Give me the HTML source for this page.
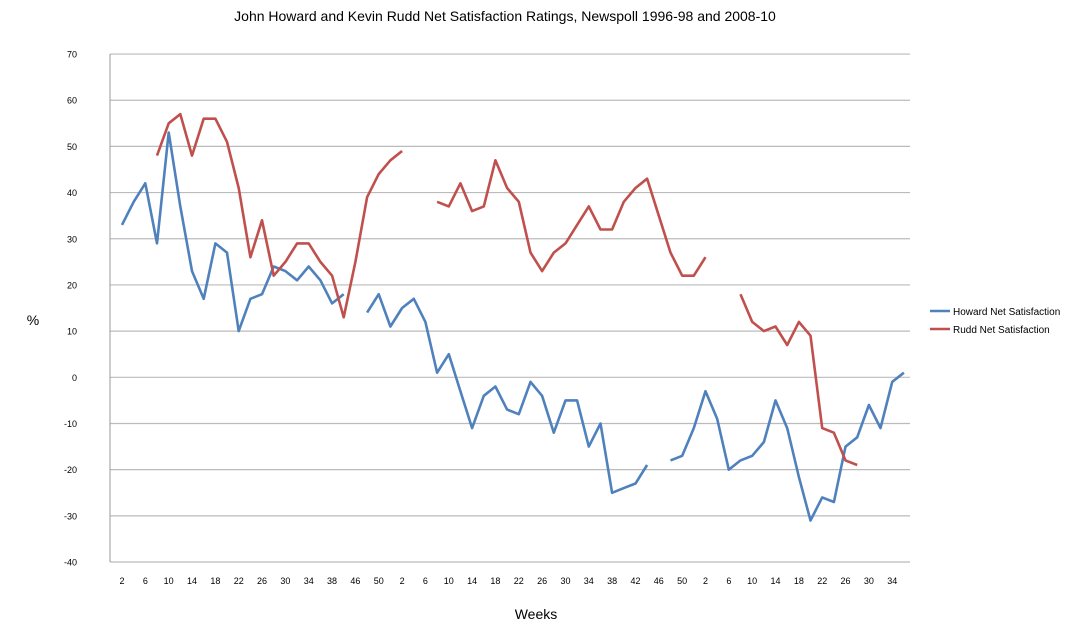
<!DOCTYPE html>
<html><head><meta charset="utf-8"><style>
html,body{margin:0;padding:0;background:#fff;width:1075px;height:629px;overflow:hidden}
svg{font-family:"Liberation Sans",sans-serif}
</style></head><body>
<svg id="c" width="1075" height="629" xmlns="http://www.w3.org/2000/svg">
<text x="505" y="21" font-size="14" text-anchor="middle" fill="#000">John Howard and Kevin Rudd Net Satisfaction Ratings, Newspoll 1996-98 and 2008-10</text>
<text x="33" y="325" font-size="14" text-anchor="middle">%</text>
<text x="536" y="619" font-size="14" text-anchor="middle">Weeks</text>
<line x1="930" y1="311" x2="950" y2="311" stroke="#4f81bd" stroke-width="2.5"/>
<text x="953" y="315" font-size="10">Howard Net Satisfaction</text>
<line x1="930" y1="329" x2="950" y2="329" stroke="#c0504d" stroke-width="2.5"/>
<text x="953" y="333" font-size="10">Rudd Net Satisfaction</text>
<g id="g"></g>
</svg>
<script>
var g=document.getElementById('g'),s='';
function Y(v){return 377.3-v*4.618}
function X(i){return 122+11.67*i}
for(var v=-40;v<=70;v+=10){var y=Y(v);s+='<line x1="110" y1="'+y+'" x2="910" y2="'+y+'" stroke="#bbb" stroke-width="1.2"/>';s+='<text x="77" y="'+(y+3.5)+'" font-size="9" text-anchor="end">'+v+'</text>';}
s+='<line x1="110" y1="54" x2="110" y2="562" stroke="#999"/>';
var labs=[2,6,10,14,18,22,26,30,34,38,46,50];var k;for(k=2;k<=50;k+=4)labs.push(k);for(k=2;k<=34;k+=4)labs.push(k);
for(var j=0;j<labs.length;j++)s+='<text x="'+X(2*j)+'" y="584" font-size="9" text-anchor="middle">'+labs[j]+'</text>';
var H=[33,38,42,29,53,37,23,17,29,27,10,17,18,24,23,21,24,21,16,18,null,14,18,11,15,17,12,1,5,-3,-11,-4,-2,-7,-8,-1,-4,-12,-5,-5,-15,-10,-25,-24,-23,-19,null,-18,-17,-11,-3,-9,-20,-18,-17,-14,-5,-11,-21.6,-31,-26,-27,-15,-13,-6,-11,-1,1];
var R=[null,null,null,48,55,57,48,56,56,51,41,26,34,22,25,29,29,25,22,13,25,39,44,47,49,null,null,38,37,42,36,37,47,41,38,27,23,27,29,33,37,32,32,38,41,43,35,27,22,22,26,null,null,18,12,10,11,7,12,9,-11,-12,-18,-19];
function line(d,c){var p='',pen=false;for(var i=0;i<d.length;i++){if(d[i]===null){pen=false;continue}p+=(pen?'L':'M')+X(i).toFixed(1)+' '+Y(d[i]).toFixed(1);pen=true}
return '<path d="'+p+'" fill="none" stroke="'+c+'" stroke-width="2.6" stroke-linejoin="round"/>'}
s+=line(H,'#4f81bd');s+=line(R,'#c0504d');
g.innerHTML=s;
</script>
</body></html>
